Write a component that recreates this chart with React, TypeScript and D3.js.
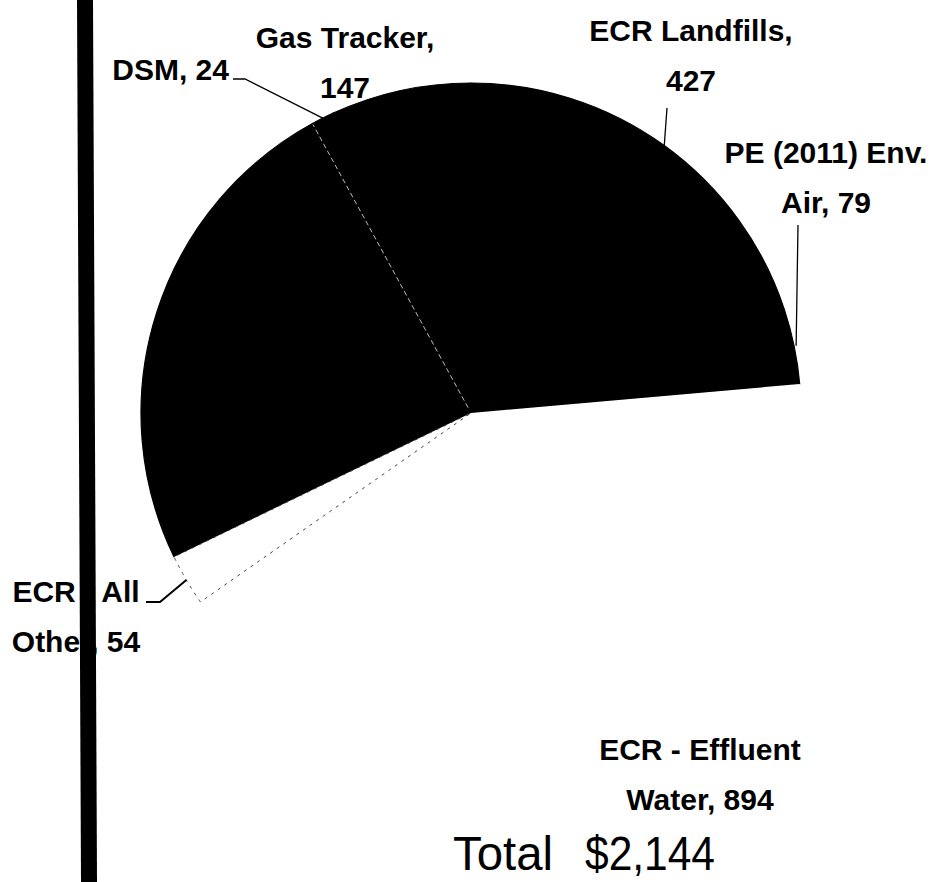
import React from "react";
import * as d3 from "d3";

// ---- data ----
const categories = [
  "ECR Landfills",
  "PE (2011) Env. Air",
  "ECR - Effluent Water",
  "ECR - All Other",
  "Unlabeled",
  "DSM",
  "Gas Tracker",
];
const values = [427, 79, 894, 54, 519, 24, 147];
const labelLines: string[][] = [
  ["ECR Landfills,", "427"],
  ["PE (2011) Env.", "Air, 79"],
  ["ECR - Effluent", "Water, 894"],
  ["ECR - All", "Other, 54"],
  [],
  ["DSM, 24"],
  ["Gas Tracker,", "147"],
];
const totalWord = "Total";
const totalValue = "$2,144";

// ---- styling / layout (not data) ----
const W = 941;
const H = 882;
const cx = 471;
const cy = 413;
const R = 330;
const fills = ["#000", "#000", "#fff", "#fff", "#000", "#000", "#000"];
// label anchor layout: [x, firstBaseline, anchor]
const labelPos: [number, number, "middle" | "end" | "start"][] = [
  [691, 41, "middle"],
  [826, 163, "middle"],
  [700, 760, "middle"],
  [76, 602, "middle"],
  [0, 0, "middle"],
  [229, 80, "end"],
  [345, 48, "middle"],
];
// leader elbows (points after the arc point)
const leaders: Record<number, [number, number][]> = {
  0: [[667, 108]],
  1: [[798, 225]],
  3: [[160, 602], [146, 602]],
  5: [[245, 79], [233, 79]],
};

export default function App() {
  const pie = d3.pie<number>().sort(null).value((d) => d)(values);
  const arc = d3.arc<d3.PieArcDatum<number>>().innerRadius(0).outerRadius(R);
  const onArc = (a: number, r: number) => [cx + r * Math.sin(a), cy - r * Math.cos(a)];
  const dsm = pie[5];
  const [lx1, ly1] = onArc(dsm.startAngle, 6);
  const [lx2, ly2] = onArc(dsm.startAngle, R - 1);
  const line = d3.line();

  return (
    <svg
      width={W}
      height={H}
      style={{ position: "absolute", left: 0, top: 0, background: "#fff" }}
    >
      <g transform={`translate(${cx},${cy})`}>
        {pie.map((p, i) =>
          fills[i] === "#000" ? (
            <path key={i} d={arc(p) || ""} fill="#000" stroke="#000" strokeWidth={1.2} strokeLinejoin="round" />
          ) : null
        )}
        {pie.map((p, i) =>
          fills[i] !== "#000" ? (
            <path
              key={"w" + i}
              d={arc(p) || ""}
              fill="#fff"
              stroke={i === 3 ? "#444" : "none"}
              strokeWidth={1}
              strokeDasharray={i === 3 ? "3 5" : undefined}
            />
          ) : null
        )}
      </g>
      <line
        x1={lx1}
        y1={ly1}
        x2={lx2}
        y2={ly2}
        stroke="#bbb"
        strokeWidth={1}
        strokeDasharray="5 3"
      />
      {Object.entries(leaders).map(([k, pts]) => {
        const i = +k;
        const mid = (pie[i].startAngle + pie[i].endAngle) / 2;
        const start = onArc(mid, i === 1 ? R + 2 : R) as [number, number];
        return (
          <path
            key={k}
            d={line([start, ...pts]) || ""}
            fill="none"
            stroke="#000"
            strokeWidth={i === 3 ? 2 : 1.3}
          />
        );
      })}
      {labelLines.map((lines, i) =>
        lines.length ? (
          <text
            key={i}
            x={labelPos[i][0]}
            y={labelPos[i][1]}
            textAnchor={labelPos[i][2]}
            fontFamily="'Liberation Sans', Arial, sans-serif"
            fontWeight="bold"
            fontSize={30}
            fill="#000"
          >
            {lines.map((t, j) => (
              <tspan key={j} x={labelPos[i][0]} dy={j === 0 ? 0 : 50}>
                {t}
              </tspan>
            ))}
          </text>
        ) : null
      )}
      <g fontFamily="'Liberation Sans', Arial, sans-serif" fontSize={48} fill="#000">
        <text x={453} y={870} textLength={100} lengthAdjust="spacingAndGlyphs">
          {totalWord}
        </text>
        <text x={585} y={870} textLength={130} lengthAdjust="spacingAndGlyphs">
          {totalValue}
        </text>
      </g>
      <polygon points="77,0 93,0 97,882 81,882" fill="#000" />
    </svg>
  );
}
